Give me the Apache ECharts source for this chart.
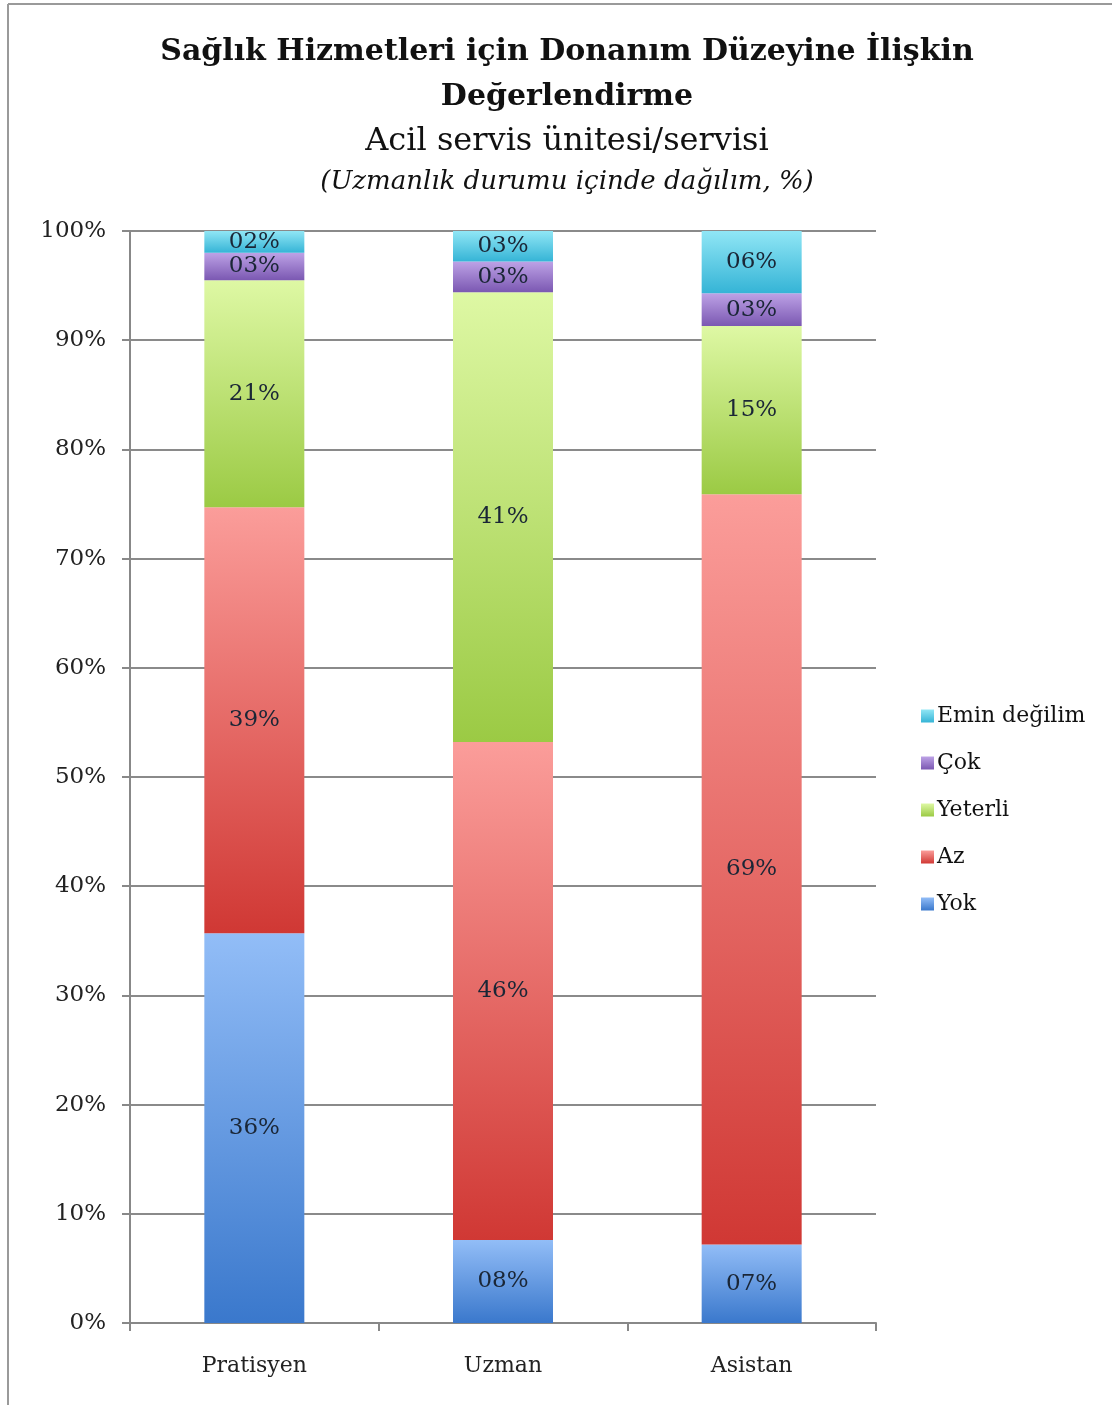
<!DOCTYPE html>
<html><head><meta charset="utf-8">
<script src="https://cdn.jsdelivr.net/npm/echarts@6/dist/echarts.min.js"></script>
<style>html,body{margin:0;padding:0;background:#fff}#c{width:1112px;height:1405px}</style>
</head><body><div id="c"></div>
<script>
const categories = ['Pratisyen', 'Uzman', 'Asistan'];
const yok = [35.7, 7.6, 7.2];
const az = [39.0, 45.6, 68.7];
const yeterli = [20.8, 41.2, 15.4];
const cok = [2.5, 2.8, 3.0];
const emin = [2.0, 2.8, 5.7];
const legendOrder = ['Emin değilim', 'Çok', 'Yeterli', 'Az', 'Yok'];

const FONT = '"DejaVu Serif", "Liberation Serif", serif';
function grad(top, bottom) {
  return new echarts.graphic.LinearGradient(0, 0, 0, 1, [{offset: 0, color: top}, {offset: 1, color: bottom}]);
}
const seriesDefs = [
  {name: 'Yok', data: yok, c: grad('#92bdf7', '#3a78cc'), legend: '#4a88dd'},
  {name: 'Az', data: az, c: grad('#fb9d9a', '#d03834'), legend: '#e04a46'},
  {name: 'Yeterli', data: yeterli, c: grad('#def8a4', '#9bca44'), legend: '#a9d65a'},
  {name: 'Çok', data: cok, c: grad('#bda2e6', '#7b58b2'), legend: '#8e6cc4'},
  {name: 'Emin değilim', data: emin, c: grad('#90e6f5', '#35b4d6'), legend: '#4cc6e2'}
];
const chart = echarts.init(document.getElementById('c'));
chart.setOption({
  animation: false,
  backgroundColor: '#fff',
  graphic: [
    {type: 'line', shape: {x1: 8, y1: 4, x2: 1112, y2: 4}, style: {stroke: '#9a9a9a', lineWidth: 2}},
    {type: 'line', shape: {x1: 8, y1: 4, x2: 8, y2: 1405}, style: {stroke: '#9a9a9a', lineWidth: 2}}
  ],
  title: [
    {text: 'Sağlık Hizmetleri için Donanım Düzeyine İlişkin\nDeğerlendirme', left: 562, top: 25, textAlign: 'center',
      textStyle: {fontFamily: FONT, fontWeight: 'bold', fontSize: 30, lineHeight: 45, color: '#111'}},
    {text: 'Acil servis ünitesi/servisi', left: 562, top: 121, textAlign: 'center',
      textStyle: {fontFamily: FONT, fontWeight: 'normal', fontSize: 32, color: '#111'}},
    {text: '(Uzmanlık durumu içinde dağılım, %)', left: 562, top: 164, textAlign: 'center',
      textStyle: {fontFamily: FONT, fontStyle: 'italic', fontWeight: 'normal', fontSize: 26, color: '#111'}}
  ],
  legend: {
    orient: 'vertical', left: 916, top: 700, itemGap: 25, itemWidth: 13, itemHeight: 13,
    icon: 'rect', data: legendOrder,
    textStyle: {fontFamily: FONT, fontSize: 22, color: '#111', padding: [0, 0, 0, -2]}
  },
  grid: {left: 130, top: 231, width: 746, height: 1092, containLabel: false},
  xAxis: {
    type: 'category', data: categories,
    axisLine: {lineStyle: {color: '#888', width: 2}},
    axisTick: {show: true, length: 8, lineStyle: {color: '#888', width: 2}},
    axisLabel: {fontFamily: FONT, fontSize: 22, color: '#222', margin: 32}
  },
  yAxis: {
    type: 'value', min: 0, max: 100, interval: 10,
    axisLine: {show: true, lineStyle: {color: '#888', width: 2}},
    axisTick: {show: true, length: 8, lineStyle: {color: '#888', width: 2}},
    splitLine: {lineStyle: {color: '#8a8a8a', width: 2}},
    axisLabel: {fontFamily: FONT, fontSize: 23, color: '#222', margin: 24, formatter: v => v + '%'}
  },
  series: seriesDefs.map(s => ({
    name: s.name, type: 'bar', stack: 'all', barWidth: 100, data: s.data,
    itemStyle: {color: s.c},
    color: s.legend,
    label: {show: true, position: 'inside', fontFamily: FONT, fontSize: 23, color: '#1a2636',
      formatter: p => String(Math.round(p.value)).padStart(2, '0') + '%'}
  }))
});
</script></body></html>
